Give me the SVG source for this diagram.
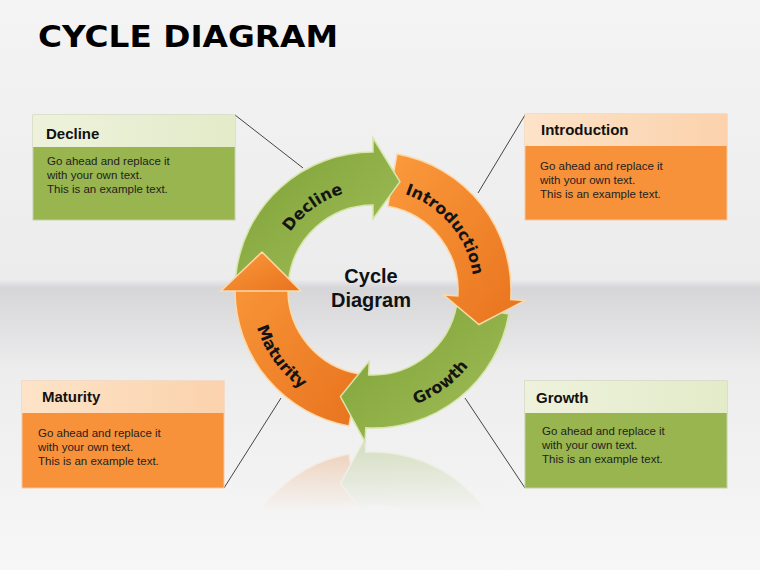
<svg xmlns="http://www.w3.org/2000/svg" width="760" height="570" viewBox="0 0 760 570">
<defs>
<linearGradient id="bg" x1="0" y1="0" x2="0" y2="1">
<stop offset="0" stop-color="#f4f4f5"/><stop offset="0.49" stop-color="#ececed"/><stop offset="0.505" stop-color="#d6d6d8"/><stop offset="0.65" stop-color="#ededee"/><stop offset="1" stop-color="#f7f7f7"/>
</linearGradient>
<linearGradient id="gHead" x1="0" y1="0" x2="1" y2="0"><stop offset="0" stop-color="#eef2dc"/><stop offset="1" stop-color="#e3ebc9"/></linearGradient>
<linearGradient id="oHead" x1="0" y1="0" x2="1" y2="0"><stop offset="0" stop-color="#fde3c8"/><stop offset="1" stop-color="#fbd2ac"/></linearGradient>
<linearGradient id="gArr" x1="0" y1="0" x2="1" y2="1"><stop offset="0" stop-color="#7c9e35"/><stop offset="1" stop-color="#a3c05a"/></linearGradient>
<linearGradient id="oArr" x1="0" y1="0" x2="1" y2="1"><stop offset="0" stop-color="#fb9a3c"/><stop offset="1" stop-color="#e8731e"/></linearGradient>
<path id="pDec" d="M272.2,283 A101 101 0 0 1 397.4,192"/>
<path id="pInt" d="M373,189 A101 101 0 0 1 472.5,307.5"/>
<path id="pGro" d="M343.5,408.4 A122 122 0 0 0 494.7,298.5"/>
<path id="pMat" d="M254.6,260.5 A122 122 0 0 0 364.5,411.7"/>
<linearGradient id="fade" x1="0" y1="0" x2="0" y2="1"><stop offset="0" stop-color="#fff" stop-opacity="0.3"/><stop offset="0.55" stop-color="#fff" stop-opacity="0"/></linearGradient>
<mask id="rm"><rect x="0" y="440" width="760" height="130" fill="url(#fade)"/></mask>
</defs>
<style>
.t{font-family:"Liberation Sans",Arial,sans-serif}
.h{font-weight:bold;font-size:15px;fill:#111}
.b{font-size:11.5px;fill:#222}
.al{font-family:"DejaVu Sans",sans-serif;font-weight:bold;font-size:16px;fill:#141414}
.ln{stroke:#444;stroke-width:1;fill:none}
.ga{fill:url(#gArr);stroke:#d6e6a8;stroke-width:1.5}
.oa{fill:url(#oArr);stroke:#fcd9a8;stroke-width:1.5}
</style>
<rect width="760" height="570" fill="url(#bg)"/>
<text x="38" y="47" font-family="DejaVu Sans,sans-serif" font-size="30" font-weight="bold" fill="#000" textLength="300" lengthAdjust="spacingAndGlyphs">CYCLE DIAGRAM</text>
<g id="connectors">
<line class="ln" x1="235" y1="115" x2="303" y2="168"/>
<line class="ln" x1="525" y1="115" x2="478" y2="193"/>
<line class="ln" x1="281" y1="398" x2="224" y2="488"/>
<line class="ln" x1="465" y1="398" x2="525" y2="488"/>
</g>
<g id="reflection" mask="url(#rm)">
<g transform="translate(0,880) scale(1,-1)">
<path class="oa" d="M349,425.9 A138 138 0 0 1 235,291 L221,291 L262,252 L301,291 L288,291 A85 85 0 0 0 358.2,373.7 Z"/>
<path class="ga" d="M508.9,314 A138 138 0 0 1 365.8,427.8 L365,441.8 L340.4,396.6 L369.3,360.9 L368.6,374.9 A85 85 0 0 0 456.7,304.8 Z"/>
</g>
</g>
<g id="ring">
<path class="oa" d="M349,425.9 A138 138 0 0 1 235,291 L221,291 L262,252 L301,291 L288,291 A85 85 0 0 0 358.2,373.7 Z"/>
<path class="ga" d="M508.9,314 A138 138 0 0 1 365.8,427.8 L365,441.8 L340.4,396.6 L369.3,360.9 L368.6,374.9 A85 85 0 0 0 456.7,304.8 Z"/>
<path class="oa" d="M396.96,154.1 A138 138 0 0 1 510.7,299.6 L524.6,300.6 L479,324.5 L443.8,295 L457.8,295.9 A85 85 0 0 0 387.8,206.3 Z"/>
<path class="ga" d="M235.8,275.6 A138 138 0 0 1 373,152 L373,138 L400,181.8 L373,219 L373,205 A85 85 0 0 0 288.5,281.1 Z"/>
<path class="oa" d="M221,291 L262,252 L301,291 Z"/>
<text class="al"><textPath href="#pDec" startOffset="50%" text-anchor="middle">Decline</textPath></text>
<text class="al"><textPath href="#pInt" startOffset="50%" text-anchor="middle">Introduction</textPath></text>
<text class="al"><textPath href="#pGro" startOffset="50%" text-anchor="middle">Growth</textPath></text>
<text class="al"><textPath href="#pMat" startOffset="50%" text-anchor="middle">Maturity</textPath></text>
<text x="371" y="283" class="t" font-size="20" font-weight="bold" text-anchor="middle" fill="#111">Cycle</text>
<text x="371" y="307" class="t" font-size="20" font-weight="bold" text-anchor="middle" fill="#111">Diagram</text>
</g>
<g id="box-decline">
<rect x="33" y="115" width="202" height="105" fill="#98b54f" stroke="#c5cfa8"/>
<rect x="33" y="115" width="202" height="32" fill="url(#gHead)"/>
<text x="46" y="139" class="t h">Decline</text>
<text class="t b"><tspan x="47" y="165">Go ahead and replace it</tspan><tspan x="47" y="179">with your own text.</tspan><tspan x="47" y="193">This is an example text.</tspan></text>
</g>
<g id="box-introduction">
<rect x="525" y="114" width="202" height="106" fill="#f7923a" stroke="#f3c9a2"/>
<rect x="525" y="114" width="202" height="32" fill="url(#oHead)"/>
<text x="541" y="135" class="t h">Introduction</text>
<text class="t b"><tspan x="540" y="170">Go ahead and replace it</tspan><tspan x="540" y="184">with your own text.</tspan><tspan x="540" y="198">This is an example text.</tspan></text>
</g>
<g id="box-maturity">
<rect x="22" y="381" width="202" height="107" fill="#f7923a" stroke="#f3c9a2"/>
<rect x="22" y="381" width="202" height="32" fill="url(#oHead)"/>
<text x="42" y="402" class="t h">Maturity</text>
<text class="t b"><tspan x="38" y="437">Go ahead and replace it</tspan><tspan x="38" y="451">with your own text.</tspan><tspan x="38" y="465">This is an example text.</tspan></text>
</g>
<g id="box-growth">
<rect x="525" y="381" width="202" height="107" fill="#98b54f" stroke="#c5cfa8"/>
<rect x="525" y="381" width="202" height="32" fill="url(#gHead)"/>
<text x="536" y="403" class="t h">Growth</text>
<text class="t b"><tspan x="542" y="435">Go ahead and replace it</tspan><tspan x="542" y="449">with your own text.</tspan><tspan x="542" y="463">This is an example text.</tspan></text>
</g>
</svg>
